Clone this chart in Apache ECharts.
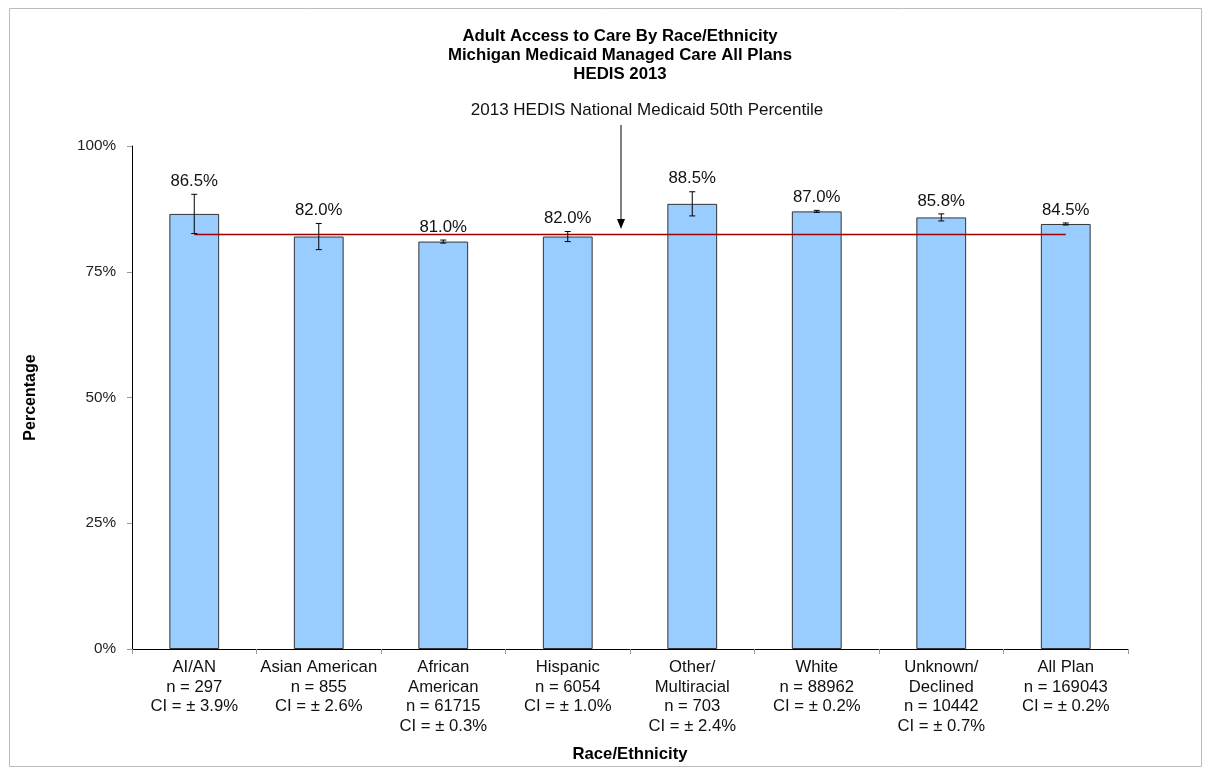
<!DOCTYPE html>
<html>
<head>
<meta charset="utf-8">
<script src="https://cdn.jsdelivr.net/npm/echarts@6/dist/echarts.min.js"></script>
<style>
html,body{margin:0;padding:0;background:#fff;}
#chart{width:1212px;height:774px;}
</style>
</head>
<body>
<div id="chart"></div>
<script>
const categories = [
  "AI/AN\nn = 297\nCI = ± 3.9%",
  "Asian American\nn = 855\nCI = ± 2.6%",
  "African\nAmerican\nn = 61715\nCI = ± 0.3%",
  "Hispanic\nn = 6054\nCI = ± 1.0%",
  "Other/\nMultiracial\nn = 703\nCI = ± 2.4%",
  "White\nn = 88962\nCI = ± 0.2%",
  "Unknown/\nDeclined\nn = 10442\nCI = ± 0.7%",
  "All Plan\nn = 169043\nCI = ± 0.2%"
];
const rates = [86.5, 82.0, 81.0, 82.0, 88.5, 87.0, 85.8, 84.5];
const ciHalf = [3.9, 2.6, 0.3, 1.0, 2.4, 0.2, 0.7, 0.2];
const benchmark = 82.4;
const benchmarkValues = categories.map(() => benchmark);
const yTicks = [0, 25, 50, 75, 100];

const FONT = '"Liberation Sans", Arial, sans-serif';
const chart = echarts.init(document.getElementById('chart'));

const errData = rates.map((v, i) => [i, v, ciHalf[i]]);

chart.setOption({
  animation: false,
  backgroundColor: '#fff',
  grid: { left: 132, right: 84, top: 146, bottom: 125, containLabel: false },
  xAxis: {
    type: 'category',
    data: categories,
    name: 'Race/Ethnicity',
    nameLocation: 'middle',
    nameGap: 97,
    nameTextStyle: { fontFamily: FONT, fontSize: 16.7, fontWeight: 'bold', color: '#000' },
    axisLine: { lineStyle: { color: '#000', width: 1 } },
    axisTick: { show: true, alignWithLabel: false, length: 5, lineStyle: { color: '#999' } },
    axisLabel: { interval: 0, fontFamily: FONT, fontSize: 16.7, color: '#111', lineHeight: 19.5, margin: 9 }
  },
  yAxis: {
    type: 'value',
    min: yTicks[0],
    max: yTicks[yTicks.length - 1],
    interval: 25,
    name: 'Percentage',
    nameLocation: 'middle',
    nameGap: 93,
    nameRotate: 90,
    nameTextStyle: { fontFamily: FONT, fontSize: 16, fontWeight: 'bold', color: '#000' },
    axisLine: { show: true, lineStyle: { color: '#000', width: 1 } },
    axisTick: { show: true, length: 5, lineStyle: { color: '#999' } },
    splitLine: { show: false },
    axisLabel: { fontFamily: FONT, fontSize: 15.3, color: '#222', margin: 16, formatter: '{value}%' }
  },
  series: [
    {
      type: 'bar',
      data: rates,
      barWidth: '40%',
      itemStyle: { color: '#99CCFF', borderColor: '#333', borderWidth: 1 },
      z: 2
    },
    {
      type: 'line',
      data: benchmarkValues,
      symbol: 'none',
      lineStyle: { color: '#a00000', width: 1.5 },
      z: 3
    },
    {
      type: 'custom',
      data: errData,
      z: 4,
      renderItem: function (params, api) {
        const i = api.value(0), v = api.value(1), c = api.value(2);
        const top = api.coord([i, v + c]);
        const bot = api.coord([i, v - c]);
        const x = top[0];
        const cap = 3;
        return {
          type: 'group',
          children: [
            { type: 'line', shape: { x1: x, y1: top[1], x2: x, y2: bot[1] }, style: { stroke: '#000', lineWidth: 1 } },
            { type: 'line', shape: { x1: x - cap, y1: top[1], x2: x + cap, y2: top[1] }, style: { stroke: '#000', lineWidth: 1 } },
            { type: 'line', shape: { x1: x - cap, y1: bot[1], x2: x + cap, y2: bot[1] }, style: { stroke: '#000', lineWidth: 1 } },
            { type: 'text', style: { text: v.toFixed(1) + '%', x: x, y: top[1] - 13, align: 'center', verticalAlign: 'middle', fontFamily: FONT, fontSize: 16.8, fill: '#111' } }
          ]
        };
      }
    }
  ],
  graphic: [
    { type: 'rect', shape: { x: 9.5, y: 8.5, width: 1192, height: 758 }, style: { fill: 'none', stroke: '#bbb', lineWidth: 1 }, z: 0 },
    { type: 'text', style: { text: 'Adult Access to Care By Race/Ethnicity\nMichigan Medicaid Managed Care All Plans\nHEDIS 2013', x: 620, y: 26.5, align: 'center', verticalAlign: 'top', lineHeight: 19, fontFamily: FONT, fontSize: 16.8, fontWeight: 'bold', fill: '#000' } },
    { type: 'text', style: { text: '2013 HEDIS National Medicaid 50th Percentile', x: 647, y: 110, align: 'center', verticalAlign: 'middle', fontFamily: FONT, fontSize: 17, fill: '#111' } },
    { type: 'line', shape: { x1: 621, y1: 125, x2: 621, y2: 221 }, style: { stroke: '#000', lineWidth: 1 } },
    { type: 'polygon', shape: { points: [[617, 219], [625, 219], [621, 229]] }, style: { fill: '#000' } }
  ]
});
</script>
</body>
</html>
